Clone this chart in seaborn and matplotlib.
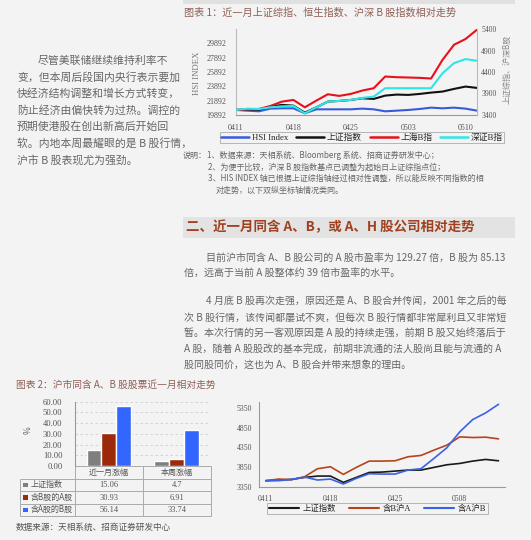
import numpy as np
import pandas as pd
import matplotlib
matplotlib.use("Agg")
import matplotlib.pyplot as plt
from matplotlib.patches import Rectangle
from matplotlib.lines import Line2D
import seaborn as sns

sns.set_style("white")
plt.rcParams["font.family"] = ["Noto Sans CJK SC", "DejaVu Sans"]
plt.rcParams["axes.unicode_minus"] = False

# ── 数据 ──────────────────────────────────────────────
# 图表1: 22 个交易日
ticks1 = ["0411", "0418", "0425", "0503", "0510"]
hsi = [20594, 20498, 20406, 20780, 20826, 20826, 20126, 20684, 20684, 20684, 20684,
       20780, 20684, 20406, 20498, 20594, 20732, 20918, 20826, 20918, 20780, 20498]
sh_comp = [3517, 3532, 3525, 3595, 3634, 3618, 3455, 3579, 3711, 3727, 3750,
           3789, 3774, 3851, 3875, 3867, 3890, 3921, 3945, 4007, 4061, 4030]
sh_b = [3517, 3532, 3540, 3610, 3711, 3750, 3579, 3735, 3882, 3844, 3890,
        3968, 4023, 4295, 4279, 4272, 4264, 4248, 4684, 5034, 5167, 5384]
sz_b = [3517, 3548, 3540, 3579, 3602, 3610, 3440, 3579, 3711, 3727, 3750,
        3797, 3828, 4023, 4023, 4023, 4023, 4023, 4373, 4606, 4700, 4661]
legend1 = ["HSI Index", "上证指数", "上海B指", "深证B指"]

# 图表2: 柱状 + 表格
periods = ["近一月涨幅", "本周涨幅"]
bar_series = ["上证指数", "含B股的A股", "含A股的B股"]
bar_sh = [15.06, 4.7]
bar_ba = [30.93, 6.91]
bar_ab = [56.14, 33.74]

# 图表2 右: 19 个交易日
ticks3 = ["0411", "0418", "0425", "0508"]
sh3 = [3503, 3520, 3536, 3587, 3621, 3621, 3460, 3587, 3714, 3723, 3748,
       3774, 3774, 3842, 3909, 3943, 4003, 4045, 4011]
ba3 = [3503, 3545, 3528, 3604, 3808, 3859, 3664, 3842, 4003, 4003, 4011,
       4113, 4147, 4282, 4409, 4621, 4604, 4613, 4570]
ab3 = [3503, 3503, 3536, 3596, 3520, 3545, 3418, 3562, 3681, 3672, 3672,
       3774, 3808, 4070, 4342, 4748, 5062, 5231, 5452]
legend3 = ["上证指数", "含B沪A", "含A沪B"]

# ── 文本 ──────────────────────────────────────────────
left_lines = [
    "尽管美联储继续维持利率不",
    "变，但本周后段国内央行表示要加",
    "快经济结构调整和增长方式转变，",
    "防止经济由偏快转为过热。调控的",
    "预期使港股在创出新高后开始回",
    "软。内地本周最耀眼的是 B 股行情，",
    "沪市 B 股表现尤为强劲。",
]
notes = [
    "2、为便于比较，沪深 B 股指数基点已调整为起始日上证综指点位；",
    "3、HIS INDEX 轴已根据上证综指轴经过相对性调整，所以能反映不同指数的相",
]
para_lines = [
    "目前沪市同含 A、B 股公司的 A 股市盈率为 129.27 倍，B 股为 85.13",
    "倍，远高于当前 A 股整体约 39 倍市盈率的水平。",
    "4 月底 B 股再次走强，原因还是 A、B 股合并传闻，2001 年之后的每",
    "次 B 股行情，该传闻都屡试不爽，但每次 B 股行情都非常犀利且又非常短",
    "暂。本次行情的另一客观原因是 A 股的持续走强，前期 B 股又始终落后于",
    "A 股，随着 A 股股改的基本完成，前期非流通的法人股尚且能与流通的 A",
    "股同股同价，这也为 A、B 股合并带来想象的理由。",
]

W, H = 531, 540
BG = "#f3f3f3"
TXT = "#666666"
TTL = "#8f5f55"
NUM = ["Liberation Serif", "Noto Sans CJK SC"]
TICK = "#555555"

fig = plt.figure(figsize=(W / 100, H / 100), dpi=100, facecolor=BG)

# 页面坐标层 (像素)
pg = fig.add_axes([0, 0, 1, 1])
pg.set_xlim(0, W); pg.set_ylim(H, 0); pg.axis("off")


def box(x0, y0, x1, y1):
    return [x0 / W, 1 - y1 / H, (x1 - x0) / W, (y1 - y0) / H]


def put(x, y, s, size, color=TXT, **kw):
    pg.text(x, y, s, fontsize=size, color=color, va="center", **kw)


# ── 页面文字 ──
for i, s in enumerate(left_lines):
    put(38 if i == 0 else 17, 60.5 + 16.6 * i, s, 7.8)

pg.add_patch(Rectangle((183, 0), 332, 4, color="#e0e0e0", lw=0))
put(184, 13, "图表 1：近一月上证综指、恒生指数、沪深 B 股指数相对走势", 7.3, TTL)

put(183, 155, "说明：", 5.8)
put(207, 155, "1、数据来源：天相系统、Bloomberg 系统、招商证券研发中心；", 5.8)
put(208, 167, notes[0], 5.8)
put(208, 178.5, notes[1], 5.8)
put(216, 190, "对走势，以下双纵坐标轴情况类同。", 5.8)

pg.add_patch(Rectangle((183, 216.7), 332, 21.3, color="#e3e3e3", lw=0))
put(186, 227.5, "二、近一月同含 A、B，或 A、H 股公司相对走势", 9.7, "#a1401f",
    fontweight="bold")

para_y = [257.7, 273.3, 301.7, 317.7, 333.3, 349.3, 365]
for i, (s, y) in enumerate(zip(para_lines, para_y)):
    put(206 if i in (0, 2) else 184, y, s, 7.2)

put(16, 385, "图表 2：沪市同含 A、B 股股票近一月相对走势", 7.0, TTL)
put(16, 527, "数据来源：天相系统、招商证券研发中心", 6.2, "#555555")


def style_spines(ax, left=True, right=False, bottom=True):
    ax.spines["top"].set_visible(False)
    ax.spines["left"].set_visible(left)
    ax.spines["right"].set_visible(right)
    ax.spines["bottom"].set_visible(bottom)
    for k in ("left", "right"):
        ax.spines[k].set_color("#bbbbbb"); ax.spines[k].set_linewidth(0.8)
    ax.spines["bottom"].set_color("#999999"); ax.spines["bottom"].set_linewidth(0.8)


# ── 图表 1 ──
ax1 = fig.add_axes(box(236, 29, 477, 115))
ax1.set_facecolor("none")
x1 = np.arange(len(hsi))
sns.lineplot(x=x1, y=hsi, color="#3a5bd9", lw=1.5, ax=ax1)
ax1.set_ylim(19892, 31892)
ax1.set_yticks(np.arange(19892, 29893, 2000))
ax1.set_xlim(0, len(hsi) - 1)
ax1.set_xticks(x1, minor=True)
ax1.set_xticks(np.arange(0, len(hsi), 5))
ax1.set_xticklabels(ticks1)
style_spines(ax1)
ax1.tick_params(axis="y", labelsize=5.8, colors=TICK, length=0, pad=7, labelfontfamily=NUM)
ax1.tick_params(axis="x", which="both", length=2.5, color="#999999", direction="out")
ax1.tick_params(axis="x", labelsize=5.8, labelcolor=TICK, pad=4, labelfontfamily=NUM)
ax1.set_xlabel(""); ax1.set_ylabel("")

ax1b = ax1.twinx()
ax1b.set_facecolor("none")
sns.lineplot(x=x1, y=sh_comp, color="#111111", lw=1.5, ax=ax1b)
sns.lineplot(x=x1, y=sh_b, color="#e8101a", lw=1.5, ax=ax1b)
sns.lineplot(x=x1, y=sz_b, color="#2ee6e6", lw=1.5, ax=ax1b)
ax1b.set_ylim(3400, 5400)
ax1b.set_yticks(np.arange(3400, 5401, 500))
style_spines(ax1b, left=False, right=True, bottom=False)
ax1b.tick_params(axis="y", labelsize=5.6, colors=TICK, length=0, pad=3, labelfontfamily=NUM)
ax1b.set_ylabel("")

put(197, 73, "HSI INDEX", 6.3, "#777777", rotation=90, ha="center", family=NUM)
put(507, 69, "上证综指、沪深B股", 5.8, "#888888", rotation=90, ha="center")

h1 = [Line2D([], [], color=c, lw=1.8) for c in ("#3a5bd9", "#111111", "#e8101a", "#2ee6e6")]
leg1 = ax1.legend(h1, legend1, loc="center", bbox_to_anchor=(362, 137.7),
                  bbox_transform=pg.transData, ncol=4, frameon=True,
                  fancybox=False, edgecolor="#999999", handlelength=3.2,
                  handletextpad=0.3, columnspacing=0.9, borderpad=0.15,
                  prop={"family": NUM, "size": 6.3})
leg1.get_frame().set_linewidth(0.6)
leg1.get_frame().set_facecolor(BG)

# ── 图表 2 柱状 ──
bar_df = pd.DataFrame({
    "period": periods * 3,
    "series": np.repeat(bar_series, len(periods)),
    "value": bar_sh + bar_ba + bar_ab,
})
bar_colors = ["#7f7f7f", "#9c2a0a", "#3366ff"]
ax2 = fig.add_axes(box(75, 401.7, 210.7, 466))
ax2.set_facecolor("none")
sns.barplot(data=bar_df, x="period", y="value", hue="series", hue_order=bar_series,
            palette=bar_colors, width=0.66, saturation=1, legend=False, ax=ax2)
ax2.set_xlim(-0.5, 1.5)
ax2.set_ylim(0, 60)
ax2.set_yticks(np.arange(0, 61, 10))
ax2.set_yticklabels([f"{v:.2f}" for v in np.arange(0, 61, 10)])
ax2.set_xticks([])
ax2.set_xlabel(""); ax2.set_ylabel("")
ax2.yaxis.grid(True, ls=(0, (3, 3)), color="#cfcfcf", lw=0.6)
ax2.set_axisbelow(True)
style_spines(ax2, bottom=False)
ax2.spines["left"].set_color("#999999")
ax2.tick_params(axis="y", labelsize=6.2, colors=TICK, length=2, pad=7, labelfontfamily=NUM)
put(28, 430, "%", 6, "#666666", rotation=90, ha="center")

# 表格
col_x = [19.5, 75, 142.7, 210.7]
row_y = [466, 478.7, 491.3, 503.7, 516]
lc = "#aaaaaa"
pg.hlines(row_y[0], col_x[1], col_x[3], color=lc, lw=0.7)
pg.hlines(row_y[1:], col_x[0], col_x[3], color=lc, lw=0.7)
pg.vlines(col_x[0], row_y[1], row_y[-1], color=lc, lw=0.7)
pg.vlines(col_x[1:], row_y[0], row_y[-1], color=lc, lw=0.7)
for j, p in enumerate(periods):
    put((col_x[j + 1] + col_x[j + 2]) / 2, (row_y[0] + row_y[1]) / 2, p, 5.8, "#555555",
        ha="center")
for i, (name, vals, c) in enumerate(zip(bar_series, [bar_sh, bar_ba, bar_ab], bar_colors)):
    yc = (row_y[i + 1] + row_y[i + 2]) / 2
    pg.add_patch(Rectangle((23.2, yc - 2.3), 4.6, 4.6, color=c, lw=0))
    put(30.7, yc, name, 5.8, "#555555")
    for j, v in enumerate(vals):
        put((col_x[j + 1] + col_x[j + 2]) / 2, yc, str(v), 6, "#555555", ha="center",
            family=NUM)

# ── 图表 2 右 折线 ──
ax3 = fig.add_axes(box(259.3, 402.4, 505, 486.7))
ax3.set_facecolor("none")
x3 = np.arange(len(sh3))
sns.lineplot(x=x3, y=sh3, color="#1a1a1a", lw=1.2, ax=ax3)
sns.lineplot(x=x3, y=ba3, color="#b5441c", lw=1.2, ax=ax3)
sns.lineplot(x=x3, y=ab3, color="#3a62e6", lw=1.2, ax=ax3)
ax3.set_xlim(-0.5, len(sh3) - 0.5)
ax3.set_ylim(3350, 5500)
ax3.set_yticks(np.arange(3350, 5351, 500))
ax3.set_xticks(np.arange(-0.5, len(sh3), 1), minor=True)
ax3.set_xticks(np.arange(0, len(sh3), 5))
ax3.set_xticklabels(ticks3)
style_spines(ax3)
ax3.spines["left"].set_color("#999999")
ax3.tick_params(axis="y", labelsize=5.6, colors=TICK, length=2, pad=3, labelfontfamily=NUM)
ax3.tick_params(axis="x", which="minor", length=2.5, color="#999999", direction="out")
ax3.tick_params(axis="x", which="major", length=0, labelsize=5.6, labelcolor=TICK, pad=6,
                labelfontfamily=NUM)
ax3.set_xlabel(""); ax3.set_ylabel("")

h3 = [Line2D([], [], color=c, lw=1.5) for c in ("#1a1a1a", "#b5441c", "#3a62e6")]
leg3 = ax3.legend(h3, legend3, loc="center", bbox_to_anchor=(377.5, 508.5),
                  bbox_transform=pg.transData, ncol=3, frameon=True, fancybox=False,
                  edgecolor="#999999", handlelength=3.6, handletextpad=0.4,
                  columnspacing=1.6, borderpad=0.2,
                  prop={"family": NUM, "size": 6})
leg3.get_frame().set_linewidth(0.6)
leg3.get_frame().set_facecolor(BG)

fig.savefig("out.png", dpi=100, facecolor=BG)
